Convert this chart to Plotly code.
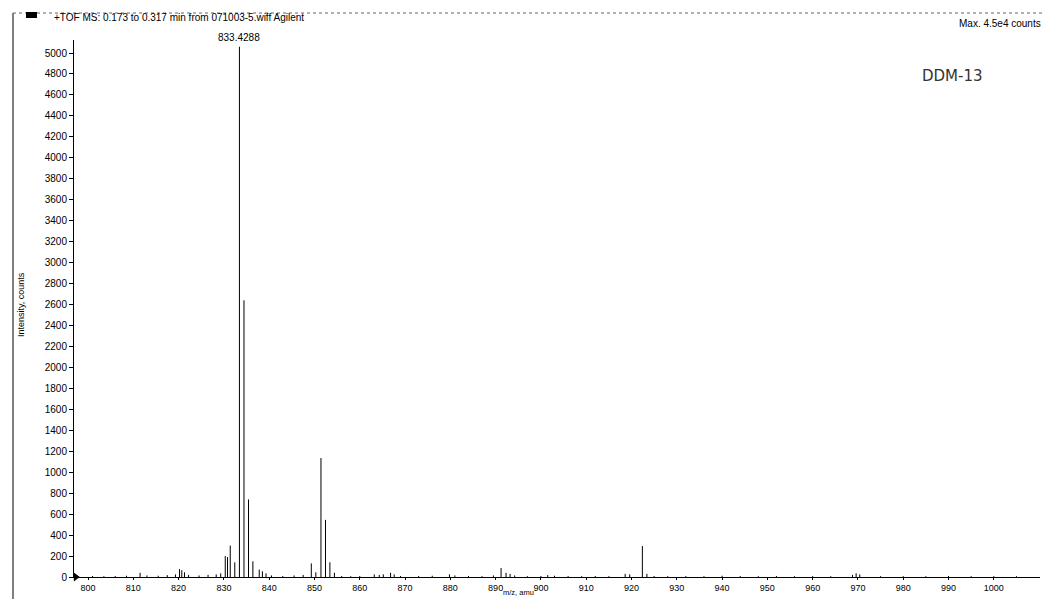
import plotly.graph_objects as go

# ---- data ----
peak_mz = [801.0, 803.5, 806.0, 808.5, 811.5, 813.0, 815.5, 817.5, 819.3, 820.2, 820.7, 821.3,
           822.2, 824.5, 826.5, 828.3, 829.3, 830.3, 830.8, 831.4, 832.4, 833.4288, 834.43,
           835.43, 836.4, 837.8, 838.5, 839.3, 840.5, 843.0, 845.5, 847.5, 849.3, 850.3,
           851.43, 852.43, 853.4, 854.4, 856.0, 858.0, 860.0, 863.2, 864.3, 865.2, 866.8,
           867.6, 869.0, 873.0, 876.0, 879.8, 881.0, 884.0, 887.0, 889.5, 891.2, 892.3,
           893.2, 894.2, 897.0, 900.0, 901.5, 903.0, 906.0, 909.0, 912.0, 915.0, 918.6,
           919.6, 922.4, 923.4, 925.0, 928.0, 932.0, 936.0, 940.0, 944.0, 948.0, 952.0,
           956.0, 960.0, 964.0, 968.8, 969.6, 970.4, 975.0, 980.0, 985.0, 990.0, 995.0,
           1000.0, 1005.0]
peak_int = [10, 8, 10, 12, 40, 15, 12, 18, 25, 75, 65, 45,
            20, 15, 20, 25, 35, 200, 190, 300, 140, 5060, 2640,
            740, 150, 70, 55, 35, 15, 10, 15, 20, 130, 45,
            1135, 545, 140, 40, 10, 8, 10, 25, 20, 25, 40,
            25, 10, 10, 12, 25, 15, 10, 8, 15, 85, 40,
            30, 15, 8, 10, 18, 12, 10, 8, 10, 8, 30,
            25, 295, 30, 10, 8, 10, 8, 12, 10, 8, 10,
            8, 8, 8, 20, 35, 25, 8, 8, 8, 10, 8,
            8, 8]
x_ticks = list(range(800, 1001, 10))
y_ticks = list(range(0, 5001, 200))
base_peak_label = "833.4288"
title_text = "+TOF MS: 0.173 to 0.317 min from 071003-5.wiff Agilent"
max_text = "Max. 4.5e4 counts"
sample_label = "DDM-13"

# ---- geometry helpers (page pixels -> paper coords) ----
W, H = 1045, 599
ML, MR, MT, MB = 74, 5, 40, 22
PW, PH = W - ML - MR, H - MT - MB


def px(x):
    return (x - ML) / PW


def py(y):
    return (H - MB - y) / PH


# stick spectrum
sx, sy = [], []
for m, i in zip(peak_mz, peak_int):
    sx += [m, m, None]
    sy += [0, i, None]

fig = go.Figure()
fig.add_trace(go.Scatter(x=sx, y=sy, mode="lines",
                         line=dict(color="black", width=1),
                         hoverinfo="skip", showlegend=False))
fig.add_trace(go.Scatter(x=[797.3], y=[0], mode="markers",
                         marker=dict(symbol="triangle-right", size=8, color="black"),
                         cliponaxis=False, showlegend=False, hoverinfo="skip"))

FONT = "Liberation Sans, Arial, sans-serif"

fig.update_layout(
    width=W, height=H,
    margin=dict(l=ML, r=MR, t=MT, b=MB),
    paper_bgcolor="white", plot_bgcolor="white",
    font=dict(family=FONT, color="black"),
    showlegend=False,
    xaxis=dict(range=[796.9, 1010.2], tickvals=x_ticks, ticks="outside", ticklen=2,
               tickcolor="black", showline=True, linecolor="black", linewidth=1,
               showgrid=False, zeroline=False, tickfont=dict(size=9, family=FONT)),
    yaxis=dict(range=[0, 5124], tickvals=y_ticks, ticks="outside", ticklen=4,
               tickcolor="black", showline=True, linecolor="black", linewidth=1,
               showgrid=False, zeroline=False, tickfont=dict(size=10, family=FONT)),
)

annotations = [
    dict(x=833.4288, y=5060, xref="x", yref="y", text=base_peak_label, showarrow=False,
         yanchor="bottom", xanchor="center", yshift=2, font=dict(size=10)),
    dict(x=px(52), y=py(18), xref="paper", yref="paper", text=title_text, showarrow=False,
         xanchor="left", yanchor="middle", font=dict(size=10)),
    dict(x=px(1043), y=py(23), xref="paper", yref="paper", text=max_text, showarrow=False,
         xanchor="right", yanchor="middle", font=dict(size=10)),
    dict(x=px(21), y=py(305), xref="paper", yref="paper", text="Intensity, counts",
         showarrow=False, textangle=-90, xanchor="center", yanchor="middle",
         font=dict(size=9)),
    dict(x=px(518), y=py(599), xref="paper", yref="paper", text="m/z, amu",
         showarrow=False, xanchor="center", yanchor="bottom", font=dict(size=7.5)),
    dict(x=px(952), y=py(76), xref="paper", yref="paper", text=sample_label,
         showarrow=False, xanchor="center", yanchor="middle",
         font=dict(size=15, family="DejaVu Sans", color="#333")),
]
fig.update_layout(annotations=annotations)

shapes = [
    dict(type="line", xref="paper", yref="paper", x0=px(13), x1=px(13), y0=py(13), y1=py(599),
         line=dict(color="black", width=1)),
    dict(type="line", xref="paper", yref="paper", x0=px(13), x1=px(1045), y0=py(13), y1=py(13),
         line=dict(color="#666", width=1, dash="dot")),
    dict(type="rect", xref="paper", yref="paper", x0=px(26), x1=px(37), y0=py(18), y1=py(12),
         fillcolor="black", line=dict(width=0)),
]
fig.update_layout(shapes=shapes)

fig.write_html("out.html", config={"displayModeBar": False},
               post_script="document.body.style.margin='0';document.body.style.overflow='hidden';")
